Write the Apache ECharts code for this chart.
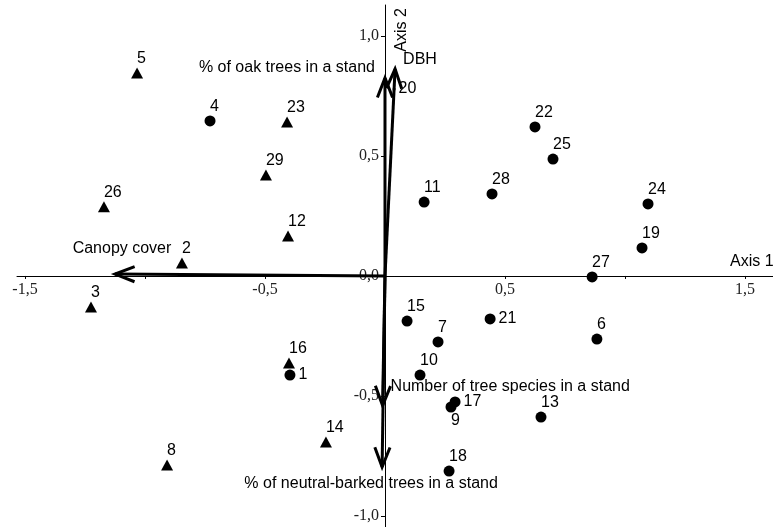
<!DOCTYPE html>
<html>
<head>
<meta charset="utf-8">
<script src="https://cdn.jsdelivr.net/npm/echarts@6/dist/echarts.min.js"></script>
<style>
  html, body { margin: 0; padding: 0; background: #fff; }
  #chart { width: 773px; height: 527px; }
</style>
</head>
<body>
<div id="chart"></div>
<script>
// stands with circle marker
const circleIds = ['1', '4', '6', '7', '9', '10', '11', '13', '15', '17', '18', '19', '20', '21', '22', '24', '25', '27', '28']
const circleX = [-0.396, -0.729, 0.883, 0.221, 0.275, 0.146, 0.163, 0.650, 0.092, 0.292, 0.267, 1.071, 0.038, 0.438, 0.625, 1.096, 0.700, 0.863, 0.446]
const circleY = [-0.413, 0.646, -0.263, -0.275, -0.546, -0.413, 0.308, -0.588, -0.188, -0.525, -0.813, 0.117, 0.779, -0.179, 0.621, 0.300, 0.487, -0.004, 0.342]

// stands with triangle marker
const triangleIds = ['2', '3', '5', '8', '12', '14', '16', '23', '26', '29']
const triangleX = [-0.846, -1.225, -1.033, -0.908, -0.404, -0.246, -0.400, -0.408, -1.171, -0.496]
const triangleY = [0.054, -0.129, 0.846, -0.788, 0.167, -0.692, -0.363, 0.642, 0.288, 0.421]

// environmental vectors
const vectorNames = ['% of oak trees in a stand', 'DBH', 'Canopy cover', 'Number of tree species in a stand', '% of neutral-barked trees in a stand']
const vectorX = [0.0, 0.042, -1.125, -0.010, -0.012]
const vectorY = [0.825, 0.863, 0.008, -0.540, -0.796]

// axis ticks
const xTicks = [-1.5, -1.0, -0.5, 0.5, 1.0, 1.5]
const xTickLabels = [-1.5, -0.5, 0.5, 1.5]
const yTicks = [-1.0, -0.5, 0.5, 1.0]
const yTickLabels = [-1.0, -0.5, 0.0, 0.5, 1.0]

// label placement for a few stands
const rightLabel = ['1', '17', '20', '21']
const bottomLabel = ['9']
// stand hidden under the vector arrows
const hiddenMarker = ['20']
// vector label placement: [align, dx, dy]
const vectorLabelPos = [['right', -10, -10], ['left', 8, -9], ['center', 7, -25], ['left', 8, -19], ['center', -11, 17]]

const sans = 'Liberation Sans, Arial, sans-serif'
const serif = 'Liberation Serif, Times New Roman, serif'

// plot area and range (axes cross at the origin)
const W = 773, H = 527
const gridLeft = 17, gridTop = 5
const xMin = -1.5333, xMax = 1.6167
const yMin = -1.046, yMax = 1.129
const xZeroOffset = -(W - gridLeft) * (0 - xMin) / (xMax - xMin)
const yZeroOffset = -(H - gridTop) * (0 - yMin) / (yMax - yMin)

function pointData(ids, xs, ys) {
  return ids.map((id, i) => {
    const item = { name: id, value: [xs[i], ys[i]] }
    if (rightLabel.includes(id)) {
      item.label = { position: 'right', align: 'left', distance: 3 }
    } else if (bottomLabel.includes(id)) {
      item.label = { position: 'bottom', align: 'left', distance: 0 }
    }
    if (hiddenMarker.includes(id)) {
      item.symbolSize = 3
    }
    return item
  })
}

const commaFmt = v => v.toFixed(1).replace('.', ',')

const pointLabel = {
  show: true,
  formatter: '{b}',
  position: 'top',
  align: 'left',
  distance: 1,
  color: '#000',
  fontFamily: sans,
  fontSize: 16
}

const chart = echarts.init(document.getElementById('chart'))
chart.setOption({
  animation: false,
  backgroundColor: '#fff',
  grid: { left: gridLeft, right: 0, top: gridTop, bottom: 0, containLabel: false, outerBoundsMode: 'none' },
  xAxis: {
    type: 'value',
    min: xMin,
    max: xMax,
    position: 'bottom',
    offset: yZeroOffset,
    splitLine: { show: false },
    axisLine: { onZero: false, lineStyle: { color: '#000', width: 1 } },
    axisTick: { customValues: xTicks, length: 3, lineStyle: { color: '#000' } },
    axisLabel: {
      customValues: xTickLabels,
      formatter: commaFmt,
      color: '#222',
      fontFamily: serif,
      fontSize: 16,
      margin: 6
    }
  },
  yAxis: {
    type: 'value',
    min: yMin,
    max: yMax,
    position: 'left',
    offset: xZeroOffset,
    splitLine: { show: false },
    axisLine: { onZero: false, lineStyle: { color: '#000', width: 1 } },
    axisTick: { customValues: yTicks, length: 4, lineStyle: { color: '#000' } },
    axisLabel: {
      customValues: yTickLabels,
      formatter: commaFmt,
      color: '#222',
      fontFamily: serif,
      fontSize: 16,
      margin: 6
    }
  },
  graphic: [
    { type: 'text', left: 730, top: 254, style: { text: 'Axis 1', fontFamily: sans, fontSize: 16, fill: '#000' } },
    { type: 'text', x: 402, y: 30, rotation: Math.PI / 2, style: { text: 'Axis 2', fontFamily: sans, fontSize: 16, fill: '#000', align: 'center', verticalAlign: 'middle' } }
  ],
  series: [
    {
      type: 'scatter',
      symbol: 'circle',
      symbolSize: 11,
      itemStyle: { color: '#000', opacity: 1 },
      label: pointLabel,
      data: pointData(circleIds, circleX, circleY),
      z: 2
    },
    {
      type: 'scatter',
      symbol: 'triangle',
      symbolSize: [12, 11],
      itemStyle: { color: '#000', opacity: 1 },
      label: pointLabel,
      data: pointData(triangleIds, triangleX, triangleY),
      z: 2
    },
    {
      type: 'custom',
      coordinateSystem: 'cartesian2d',
      clip: false,
      z: 5,
      data: vectorNames.map((n, i) => [vectorX[i], vectorY[i], i]),
      renderItem: function(params, api) {
        const idx = api.value(2)
        const o = api.coord([0, 0])
        const t = api.coord([api.value(0), api.value(1)])
        const ang = Math.atan2(t[1] - o[1], t[0] - o[0])
        const L = 21
        const a = Math.PI / 8.5
        const w1 = [t[0] - L * Math.cos(ang - a), t[1] - L * Math.sin(ang - a)]
        const w2 = [t[0] - L * Math.cos(ang + a), t[1] - L * Math.sin(ang + a)]
        const lp = vectorLabelPos[idx]
        return {
          type: 'group',
          children: [
            { type: 'line', shape: { x1: o[0], y1: o[1], x2: t[0], y2: t[1] }, style: { stroke: '#000', lineWidth: 3 } },
            { type: 'polyline', shape: { points: [w1, t, w2] }, style: { stroke: '#000', fill: null, lineWidth: 3 } },
            {
              type: 'text',
              x: t[0] + lp[1],
              y: t[1] + lp[2],
              style: {
                text: vectorNames[idx],
                align: lp[0],
                verticalAlign: 'middle',
                fontFamily: sans,
                fontSize: 16,
                fill: '#000'
              }
            }
          ]
        }
      }
    }
  ]
})
</script>
</body>
</html>
